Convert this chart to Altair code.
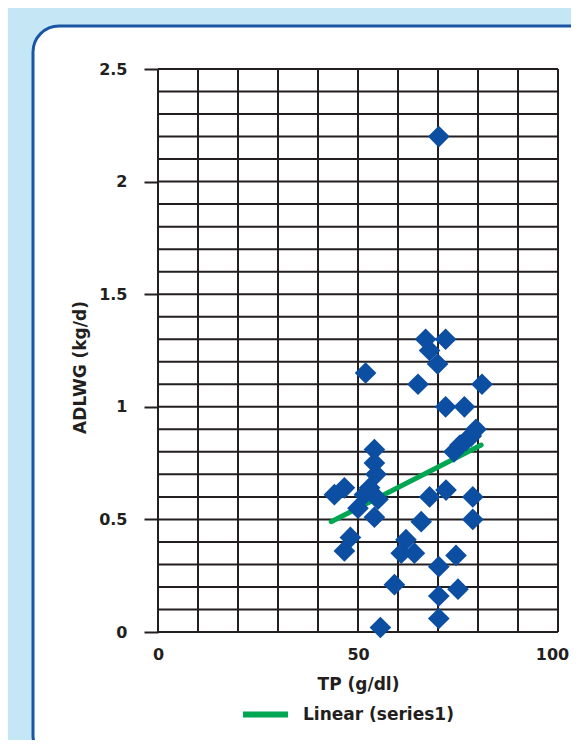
import altair as alt
import pandas as pd

# ---- data ----
tp = [70.2, 51.9, 66.9, 71.9, 67.9, 69.9, 65.0, 81.0, 71.9, 76.6,
      74.0, 75.5, 77.0, 78.3, 79.5,
      54.1, 54.1, 54.5, 52.9, 51.6, 55.0, 44.1, 46.6, 50.0, 54.1, 48.1, 46.6,
      67.9, 72.0, 78.7, 78.7, 65.8, 62.0, 60.8, 64.1, 74.5, 70.2, 59.1, 75.0,
      70.2, 70.2, 55.6]
adlwg = [2.20, 1.15, 1.30, 1.30, 1.25, 1.19, 1.10, 1.10, 1.00, 1.00,
         0.80, 0.83, 0.85, 0.87, 0.90,
         0.81, 0.75, 0.70, 0.64, 0.61, 0.59, 0.61, 0.64, 0.55, 0.51, 0.42, 0.36,
         0.60, 0.63, 0.60, 0.50, 0.49, 0.41, 0.35, 0.35, 0.34, 0.29, 0.21, 0.19,
         0.16, 0.06, 0.02]

trend_tp = [43.3, 80.8]
trend_adlwg = [0.49, 0.83]
trend_name = "Linear (series1)"

x_grid = [0, 10, 20, 30, 40, 50, 60, 70, 80, 90, 100]
y_grid = [0.0, 0.1, 0.2, 0.3, 0.4, 0.5, 0.6, 0.7, 0.8, 0.9, 1.0, 1.1, 1.2,
          1.3, 1.4, 1.5, 1.6, 1.7, 1.8, 1.9, 2.0, 2.1, 2.2, 2.3, 2.4, 2.5]
x_labels = [0, 50, 100]
y_labels = [0, 0.5, 1, 1.5, 2, 2.5]

FONT = "DejaVu Sans"
TEXT = "#231f20"
GRID = "#231f20"
LS = 16   # tick label size
TS = 17   # title size

points_df = pd.DataFrame({"tp": tp, "adlwg": adlwg})
trend_df = pd.DataFrame({"tp": trend_tp, "adlwg": trend_adlwg,
                         "series": [trend_name] * len(trend_tp)})
xg_df = pd.DataFrame({"tp": x_grid})
yg_df = pd.DataFrame({"adlwg": y_grid})

x_scale = alt.Scale(domain=[0, 100], nice=False, zero=False)
y_scale = alt.Scale(domain=[0, 2.5], nice=False, zero=False)

x_axis = alt.Axis(values=x_labels, format="d", ticks=False, domain=False, grid=False,
                  labelFlush=False, labelOverlap=False,
                  labelOffset={"condition": {"test": "datum.value >= 100", "value": -6},
                               "value": 0},
                  labelFont=FONT, labelFontSize=LS, labelFontWeight="bold", labelColor=TEXT,
                  labelPadding=14,
                  titleFont=FONT, titleFontSize=TS, titleFontWeight="bold", titleColor=TEXT,
                  titleY=52, titleBaseline="middle", zindex=1)
y_axis = alt.Axis(values=y_labels, format="~g", tickSize=14, tickWidth=2, tickColor=GRID,
                  domain=False, grid=False, labelFlush=False, labelOverlap=False,
                  labelFont=FONT, labelFontSize=LS, labelFontWeight="bold", labelColor=TEXT,
                  labelPadding=17,
                  titleFont=FONT, titleFontSize=TS, titleFontWeight="bold", titleColor=TEXT,
                  titleX=-78, titleY=298, titleBaseline="middle", titleAngle=270, zindex=1)

X = lambda: alt.X("tp:Q", scale=x_scale, axis=x_axis, title="TP (g/dl)")
Y = lambda: alt.Y("adlwg:Q", scale=y_scale, axis=y_axis, title="ADLWG (kg/d)")

box = alt.Chart(pd.DataFrame({"k": [0]})).mark_rect(
    fill="white", stroke="#1a55a6", strokeWidth=3, cornerRadius=26
).encode(x=alt.value(-125), x2=alt.value(700), y=alt.value(-43), y2=alt.value(692))

vgrid = alt.Chart(xg_df).mark_rule(color=GRID, strokeWidth=2).encode(x=X())
hgrid = alt.Chart(yg_df).mark_rule(color=GRID, strokeWidth=2).encode(y=Y())

trend = alt.Chart(trend_df).mark_line(strokeWidth=5, strokeCap="round").encode(
    x=X(), y=Y(),
    color=alt.Color("series:N",
                    scale=alt.Scale(domain=[trend_name], range=["#00a651"]),
                    legend=alt.Legend(title=None, orient="none", legendX=82, legendY=620,
                                      symbolType="stroke", symbolStrokeWidth=6,
                                      symbolSize=2025, labelOffset=12, padding=0,
                                      labelFont=FONT, labelFontSize=TS,
                                      labelFontWeight="bold", labelColor=TEXT,
                                      zindex=1))
)

pts = alt.Chart(points_df).mark_point(
    shape="diamond", filled=True, size=470, color="#0b4ea2", opacity=1
).encode(x=X(), y=Y())

chart = alt.layer(box, vgrid, hgrid, trend, pts).properties(
    width=400, height=563,
    autosize=alt.AutoSizeParams(type="none"),
    padding={"left": 150, "top": 61, "right": 13, "bottom": 108},
    background="#c4e6f5",
).configure_view(stroke=None)

chart.save("out.html", embed_options={"renderer": "svg", "actions": False})
